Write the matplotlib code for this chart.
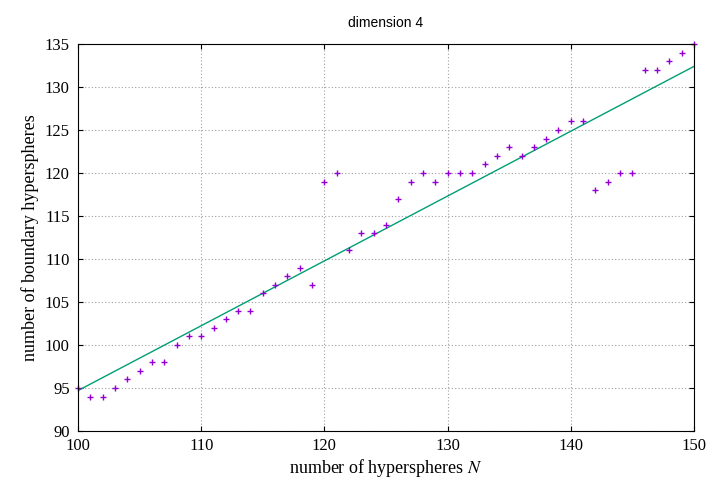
import matplotlib.pyplot as plt

plt.rcParams["mathtext.fontset"] = "stix"

# data
n_vals = list(range(100, 151))
boundary = [95, 94, 94, 95, 96, 97, 98, 98, 100, 101,
            101, 102, 103, 104, 104, 106, 107, 108, 109, 107,
            119, 120, 111, 113, 113, 114, 117, 119, 120, 119,
            120, 120, 120, 121, 122, 123, 122, 123, 124, 125,
            126, 126, 118, 119, 120, 120, 132, 132, 133, 134, 135]
fit_x = [100, 150]
fit_y = [94.7, 132.4]

fig = plt.figure(figsize=(7.2, 4.8), dpi=100)
ax = fig.add_axes([78 / 720, 1 - 431 / 480, (694 - 78) / 720, (431 - 44) / 480])

ax.plot(fit_x, fit_y, color="#009e73", lw=1)
ax.plot(n_vals, boundary, ls="none", marker="+", ms=5, mew=1, color="#9400d3",
        clip_on=False)

ax.set_xlim(100, 150)
ax.set_ylim(90, 135)
ax.set_xticks(range(100, 151, 10))
ax.set_yticks(range(90, 136, 5))
ax.grid(True, color="#a0a0a0", ls=(0, (1, 2)), lw=0.8)
ax.tick_params(direction="in", top=True, right=True, labelsize=12)
ax.tick_params(axis="x", pad=5)
ax.tick_params(axis="y", pad=6)
for lab in ax.get_xticklabels() + ax.get_yticklabels():
    lab.set_fontfamily("Liberation Serif")

ax.set_xlabel("number of hyperspheres $N$", fontsize=13, fontfamily="Liberation Serif",
              labelpad=2)
ax.set_ylabel("number of boundary hyperspheres", fontsize=13, fontfamily="Liberation Serif")
ax.set_title("dimension 4", fontsize=10, fontfamily="Liberation Sans", pad=12)

fig.savefig("out.png", dpi=100)
